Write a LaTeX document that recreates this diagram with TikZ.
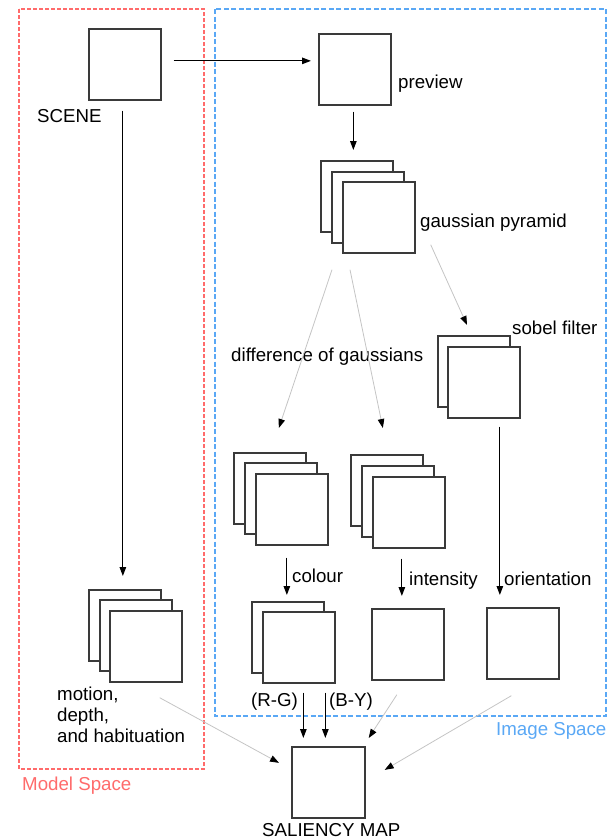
\documentclass[tikz,border=0pt]{standalone}
\usepackage{fontspec}
\setmainfont{Liberation Sans}
\usetikzlibrary{arrows.meta}
\definecolor{boxgrey}{HTML}{3A3A3A}
\definecolor{modelred}{HTML}{FF6B6B}
\definecolor{imageblue}{HTML}{5AA8F5}
\definecolor{lightline}{HTML}{C4C4C4}
\begin{document}
\begin{tikzpicture}[x=1pt,y=-1pt,
  pane/.style={draw=boxgrey, line width=1.7pt, fill=white, minimum width=72pt,
    minimum height=71pt, inner sep=0pt, anchor=north west},
  lbl/.style={inner sep=0pt, anchor=base west, font=\fontsize{18.7}{22}\selectfont},
  arr/.style={draw=black, line width=1.2pt, -{Triangle[length=9pt,width=6.5pt]}},
  garr/.style={draw=lightline, line width=0.8pt, -{Triangle[length=9pt,width=6.5pt,color=black]}},
  region/.style={dashed, line width=1.2pt}]
\useasboundingbox (0,0) rectangle (608,839);

% space frames
\draw[region, draw=modelred, dash pattern=on 4pt off 2pt] (19,9) rectangle (204,769);
\draw[region, draw=imageblue, line width=1.6pt, dash pattern=on 5pt off 2.5pt] (215,9) rectangle (606,716);
\node[lbl, text=modelred] (modelspace) at (22,790) {Model Space};
\node[lbl, text=imageblue] (imagespace) at (496,735) {Image Space};

% single panes
\node[pane] (scene) at (88,28) {};
\node[pane] (preview) at (318,33) {};
\node[pane] (imap) at (371,608) {};
\node[pane] (omap) at (486,607) {};
\node[pane, minimum width=73pt] (sal) at (291,746) {};

% gaussian pyramid stack
\node[pane] (gp1) at (320,160) {};
\node[pane] (gp2) at (331,171) {};
\node[pane] (gp3) at (342,181) {};

% sobel filter stack
\node[pane] (sob1) at (437,335) {};
\node[pane] (sob2) at (447,346) {};

% difference of gaussians stacks
\node[pane] (col1) at (233,452) {};
\node[pane] (col2) at (244,462) {};
\node[pane] (col3) at (255,473) {};
\node[pane] (int1) at (350,454) {};
\node[pane] (int2) at (361,465) {};
\node[pane] (int3) at (372,476) {};

% colour opponent maps
\node[pane] (cm1) at (251,601) {};
\node[pane] (cm2) at (262,611) {};

% motion / depth / habituation stack
\node[pane] (mot1) at (88,589) {};
\node[pane] (mot2) at (99,599) {};
\node[pane] (mot3) at (109,610) {};

% labels
\node[lbl] (scenelbl) at (37,122) {SCENE};
\node[lbl] (previewlbl) at (398,88) {preview};
\node[lbl] (gplbl) at (420,227) {gaussian pyramid};
\node[lbl] (doglbl) at (231,361) {difference of gaussians};
\node[lbl] (soblbl) at (512,334) {sobel filter};
\node[lbl] (collbl) at (292,582) {colour};
\node[lbl] (intlbl) at (409,585) {intensity};
\node[lbl] (orilbl) at (504,585) {orientation};
\node[lbl] (rglbl) at (251,706) {(R-G)};
\node[lbl] (bylbl) at (329,706) {(B-Y)};
\node[lbl] (motlbl1) at (57,700) {motion,};
\node[lbl] (motlbl2) at (57,721) {depth,};
\node[lbl] (motlbl3) at (57,742) {and habituation};
\node[lbl] (sallbl) at (262,836) {SALIENCY MAP};

% main flow
\draw[arr] ([shift={(12pt,3.5pt)}]scene.east) -- ([shift={(-7pt,3.5pt)}]scene.east -| preview.west);
\draw[arr] ([shift={(-2pt,-10pt)}]scene.south) -- ([shift={(-2pt,13pt)}]scene.south |- mot1.north);
\draw[arr] ([shift={(-1.5pt,-6pt)}]preview.south) -- ([shift={(-1.5pt,10pt)}]preview.south |- gp1.north);

% pyramid to filters
\draw[garr] ([shift={(-10pt,-16pt)}]gp3.south west) -- ([shift={(9pt,24pt)}]col1.north);
\draw[garr] ([shift={(8pt,-16pt)}]gp3.south west) -- ([shift={(-4pt,26pt)}]int1.north);
\draw[garr] ([shift={(15pt,9pt)}]gp3.south east) -- ([shift={(30pt,10pt)}]sob1.north west);

% feature maps
\draw[arr] ([shift={(-5pt,-12pt)}]col3.south) -- ([shift={(-5pt,6pt)}]col3.south |- cm1.north);
\draw[arr] ([shift={(-7pt,-10pt)}]int3.south) -- ([shift={(-7pt,12pt)}]int3.south |- imap.north);
\draw[arr] ([shift={(16pt,-8pt)}]sob2.south) -- ([shift={(16pt,12pt)}]sob2.south |- omap.north);

% into the saliency map
\draw[arr] ([shift={(4.5pt,-9pt)}]cm2.south) -- ([shift={(4.5pt,8pt)}]cm2.south |- sal.north);
\draw[arr] ([shift={(26.5pt,-9pt)}]cm2.south) -- ([shift={(26.5pt,8pt)}]cm2.south |- sal.north);
\draw[garr] ([shift={(-23pt,-15pt)}]mot3.south east) -- ([shift={(-12pt,19.5pt)}]sal.west);
\draw[garr] ([shift={(-11pt,-14pt)}]imap.south) -- ([shift={(3pt,8pt)}]sal.north east);
\draw[garr] ([shift={(-11.5pt,-16pt)}]omap.south) -- ([shift={(19pt,12.5pt)}]sal.east);
\end{tikzpicture}
\end{document}
